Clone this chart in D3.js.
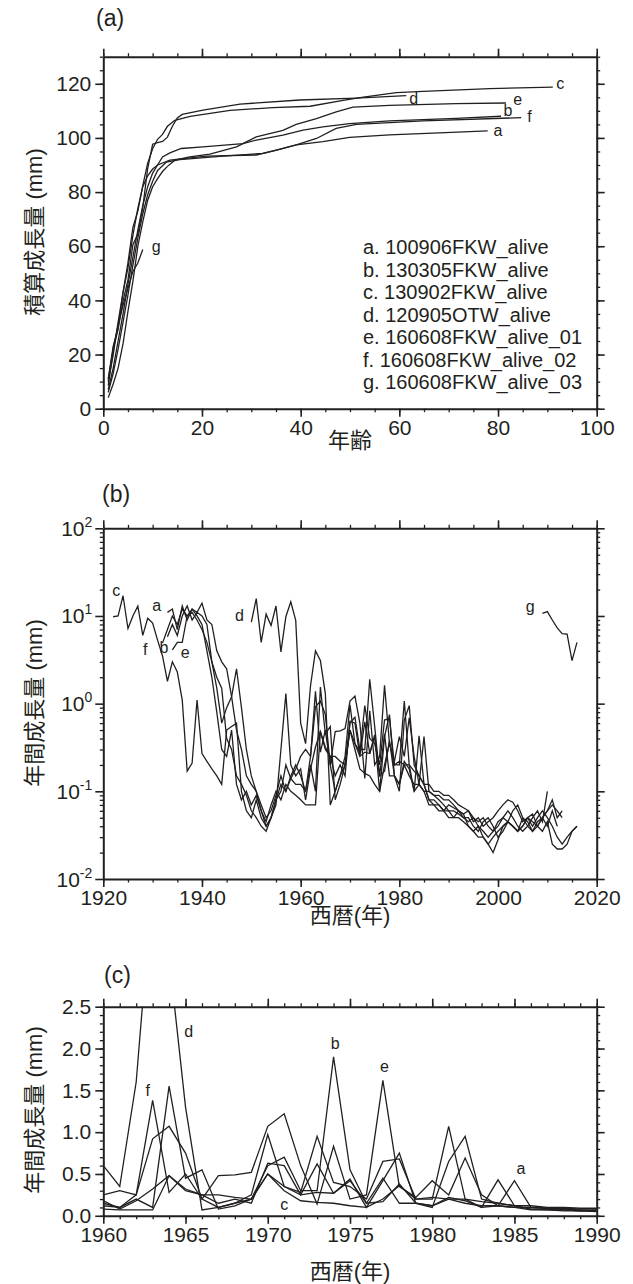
<!DOCTYPE html>
<html>
<head>
<meta charset="utf-8">
<script src="https://cdn.jsdelivr.net/npm/d3@7"></script>
<style>
  body { margin: 0; background: #fff; }
  svg { font-family: "Liberation Sans", Arial, "Noto Sans CJK JP", sans-serif; }
</style>
</head>
<body>
<svg id="chart" width="633" height="1284"></svg>
<script>
// ---- data ----
const seriesIds = ['a', 'b', 'c', 'd', 'e', 'f', 'g'];
const legendLabels = [
    'a. 100906FKW_alive',
    'b. 130305FKW_alive',
    'c. 130902FKW_alive',
    'd. 120905OTW_alive',
    'e. 160608FKW_alive_01',
    'f. 160608FKW_alive_02',
    'g. 160608FKW_alive_03'
];

// (a) cumulative growth [age, mm]
const cumA = [[1,11],[2,23],[3,30],[4,43],[5,52],[6,64],[7,74],[8,82],[9,86],[10,88.5],[11,90],[13.5,91.8],[20.9,93.3],[31,93.7],[35.1,95.5],[39.1,97.4],[44.5,98.6],[49.9,100.2],[58,101.1],[68.1,101.9],[77.9,102.6]];
const cumB = [[1,7],[2,15],[3,25],[4,35],[5,46],[6,56],[7,66],[8,75],[9,82],[10,87],[11,90],[12,93],[13.5,94.5],[15.8,96.1],[20.2,96.7],[28.3,97.9],[31,99.2],[36.4,101],[40.5,102.9],[44.5,104.1],[49.9,105.3],[58,106.3],[71.5,107.2],[80.6,108]];
const cumC = [[1,9.8],[2,19.8],[3,32],[4,43],[5,54],[6,67],[7,73],[8,82.4],[9,90.7],[10,96],[11,99.5],[12,101.3],[13,104.3],[14.5,106.5],[17.6,108],[25.7,110.2],[34.4,111.2],[41.9,111.7],[48.6,113.9],[52.7,115.1],[59.4,116.7],[64.8,117.2],[78.3,118.2],[91.1,118.8]];
const cumD = [[1,8.5],[2,22],[3,29.3],[4,39.8],[5,47.6],[6,60.6],[7,64.5],[8,74.3],[9,88.8],[10,97.7],[11,98.3],[12,98.7],[13,100.3],[14,104.3],[15,107.4],[16,108.7],[20.2,110.3],[27.7,112.5],[39.8,114],[51.3,114.7],[61.4,115.6]];
const cumE = [[1,4.1],[2,9.1],[3,15],[4,24],[5,36],[6,47],[7,60],[8,69],[9,77],[10,82],[11,85],[12,87.6],[13,89.5],[14.5,91.8],[17.5,93],[21.6,94],[27,96.7],[31,100.4],[36.4,102.8],[39.1,105],[43.2,107.1],[47.2,109.6],[50.6,111.4],[58,112],[71.5,112.7],[81.6,112.9]];
const cumF = [[1,6],[2,13],[3,22],[4,32],[5,42],[6,53],[7,63],[8,72],[9,79],[10,84],[11,88],[12.8,91.1],[15.5,92],[24.3,93.3],[32.4,94.3],[35.1,95.5],[39.1,97.4],[43.2,99.8],[47.2,103.5],[51.3,105],[64.8,106.3],[84.7,107.5]];
const cumG = [[1,10.7],[2,21.9],[3,30.9],[4,38.2],[5,44.5],[6,50.7],[7,53.8],[8,58.8]];

// (b),(c) annual growth (mm), one value per year from the first year
const firstYear = { a: 1933, b: 1933, c: 1922, d: 1950, e: 1934, f: 1932, g: 2009 };
const annualA = [11,12,7,13,9,12,10,8,4,2,0.8,0.3,
    0.25,0.5,0.12,0.08,0.1,0.07,0.09,0.06,0.045,0.07,0.1,0.08,0.12,0.1,0.09,
    0.08,0.07,0.07,0.07,0.48,0.32,0.25,0.15,0.2,0.15,0.63,0.6,0.25,0.62,0.27,0.44,0.1,0.42,0.75,0.15,0.12,0.2,0.15,0.12,0.12,0.42,0.1,0.09,0.08,0.07,0.06,
    0.06,0.055,0.05,0.045,0.05,0.04,0.035,0.03,0.035,0.045,0.05,0.06,0.05,0.04,0.035,0.04,0.05,0.06,0.045,0.1];
const annualB = [5.8,8,6,10,13,9,11,10,8,3,1.5,0.6,0.9,1.2,2.5,0.9,
    0.3,0.15,0.1,0.06,0.04,0.05,0.08,0.12,0.1,0.15,0.2,
    0.15,0.1,0.2,0.1,1.55,0.45,0.55,0.08,0.12,0.2,0.6,0.7,0.3,0.3,1.9,0.55,0.15,0.45,0.15,0.15,0.1,0.65,0.95,0.2,0.15,0.12,0.08,0.08,0.07,0.06,0.07,
    0.065,0.06,0.05,0.05,0.04,0.035,0.045,0.05,0.04,0.03,0.035,0.045,0.06,0.07,0.05,0.04,0.035,0.045,0.05,0.06,0.07,0.06,0.05];
const annualC = [9.8,10,17,7.2,10,13,6,9.4,8.3,5.3,3.5,1.8,3.0,2.3,
    1.1,0.17,0.21,1.1,0.27,0.22,0.18,0.15,0.12,0.5,0.55,0.6,0.1,0.06,0.05,0.08,0.05,0.04,0.05,0.07,0.3,1.3,0.2,0.15,
    0.18,0.08,0.18,0.32,0.48,0.3,0.25,0.25,0.22,0.2,0.5,0.3,0.18,0.16,0.15,0.12,0.1,0.2,0.36,0.2,0.22,0.2,0.2,0.17,0.15,0.12,0.12,0.1,0.1,0.09,0.09,
    0.08,0.07,0.065,0.06,0.05,0.045,0.05,0.04,0.035,0.04,0.05,0.045,0.04,0.035,0.04,0.05,0.045,0.04,0.05,0.06,0.08,0.05,0.06];
const annualD = [8.5,15.8,5,10.5,7.8,13,3.9,9.8,14.5,8.9,
    0.6,0.35,1.6,4.0,3.1,1.3,0.07,0.1,0.15,0.2,0.5,0.35,0.25,0.28,0.27,0.42,0.15,0.17,0.38,0.15,0.12,0.22,0.18,0.1,0.12,0.1,0.07,0.07,0.06,0.06,0.05,
    0.05,0.06,0.055,0.04,0.035,0.04,0.03,0.025,0.03,0.035,0.04,0.045,0.04,0.035,0.05,0.045,0.035,0.04,0.05,0.04,0.06,0.04];
const annualE = [4.1,5,5,10,12,11,14,9,8,4,3,2.5,1.2,0.5,0.3,0.15,0.12,
    0.1,0.07,0.05,0.06,0.09,0.15,0.1,0.14,0.12,
    0.12,0.1,0.25,0.92,1.07,0.75,0.2,0.48,0.49,0.52,1.07,1.22,0.6,0.14,0.83,0.2,0.25,1.62,0.35,0.22,0.42,0.25,0.69,0.25,0.12,0.1,0.1,0.09,0.09,0.08,0.08,
    0.07,0.06,0.055,0.06,0.045,0.05,0.04,0.045,0.05,0.06,0.07,0.08,0.075,0.06,0.045,0.05,0.04,0.05,0.06,0.05,0.04,0.03,0.025,0.03,0.035,0.04];
const annualF = [4.9,7,10,8,12,10,11,9,7,5,3,2,1.5,0.4,0.3,0.15,
    0.12,0.09,0.06,0.05,0.04,0.035,0.05,0.08,0.1,0.2,0.14,0.18,
    0.25,0.3,0.25,1.38,0.28,0.5,0.2,0.1,0.15,0.25,0.97,0.35,0.28,0.95,0.4,0.35,0.2,0.65,0.68,0.2,0.2,1.07,0.2,0.1,0.43,0.12,0.08,0.07,0.07,0.06,0.06,
    0.05,0.05,0.045,0.04,0.035,0.03,0.03,0.025,0.02,0.028,0.04,0.045,0.04,0.035,0.04,0.05,0.055,0.04,0.035,0.045,0.025,0.022,0.022,0.025,0.035,0.04];
const annualG = [10.7,11.2,9.0,7.3,6.3,6.2,3.1,5.0];

// tick values
const ticksAgeX = [0, 20, 40, 60, 80, 100];
const ticksCumY = [0, 20, 40, 60, 80, 100, 120];
const ticksYearB = [1920, 1940, 1960, 1980, 2000, 2020];
const ticksLogY = [0.01, 0.1, 1, 10, 100];
const ticksYearC = [1960, 1965, 1970, 1975, 1980, 1985, 1990];
const ticksLinY = [0, 0.5, 1.0, 1.5, 2.0, 2.5];

// curve labels, in data units
const notesA = [['c', 92.6, 120], ['d', 62.9, 114.4], ['e', 84, 114.3], ['b', 82, 110.2], ['f', 86.4, 108], ['a', 80, 102.8], ['g', 10.7, 59.8]];
const notesB = [['c', 1922.6, 19.7], ['a', 1930.8, 13.3], ['f', 1928.5, 4.1], ['b', 1932.3, 4.4], ['e', 1936.6, 3.8], ['d', 1947.6, 10], ['g', 2006.5, 12.7]];
const notesC = [['d', 1965.2, 2.2], ['f', 1962.7, 1.5], ['b', 1974.1, 2.06], ['e', 1977.1, 1.78], ['a', 1985.4, 0.57], ['c', 1971, 0.14]];

// ---- drawing ----
const ink = '#231f20';
const svg = d3.select('#chart');
const cumulative = { a: cumA, b: cumB, c: cumC, d: cumD, e: cumE, f: cumF, g: cumG };
const annual = { a: annualA, b: annualB, c: annualC, d: annualD, e: annualE, f: annualF, g: annualG };
const annualPoints = id => annual[id].map((v, i) => [firstYear[id] + i, v]);

const plotLeft = 103.3, plotRight = 596.7;
const tickFont = 21;

function frame(g, x, y, xMajor, xMinor, yMajor, yMinor, xFormat, yFormat) {
    const [x0, x1] = x.range();
    const [y0, y1] = y.range();
    const sides = [
        [d3.axisBottom(x), xMajor, xMinor, `translate(0,${y0})`, true],
        [d3.axisTop(x), xMajor, xMinor, `translate(0,${y1})`, false],
        [d3.axisLeft(y), yMajor, yMinor, `translate(${x0},0)`, true],
        [d3.axisRight(y), yMajor, yMinor, `translate(${x1},0)`, false]
    ];
    sides.forEach(([axis, major, minor, tr, labelled], k) => {
        const gm = g.append('g').attr('transform', tr)
            .call(axis.tickValues(minor).tickSize(3.5).tickSizeOuter(0).tickFormat(''));
        gm.select('.domain').remove();
        gm.selectAll('line').attr('stroke', ink).attr('stroke-width', 1.3);

        const fmt = labelled ? (k < 2 ? xFormat : yFormat) : () => '';
        const ga = g.append('g').attr('transform', tr)
            .call(axis.tickValues(major).tickSize(8).tickSizeOuter(0).tickPadding(k < 2 ? 3 : 4).tickFormat(fmt));
        ga.select('.domain').attr('stroke', ink).attr('stroke-width', 2);
        ga.selectAll('line').attr('stroke', ink).attr('stroke-width', 1.6);
        ga.selectAll('text').attr('fill', ink).attr('font-size', tickFont)
            .attr('font-family', '"Liberation Sans", Arial, sans-serif');
    });
}

function curveLabels(g, x, y, notes, size) {
    g.selectAll(null).data(notes).enter().append('text')
        .attr('x', d => x(d[1])).attr('y', d => y(d[2]))
        .attr('text-anchor', 'middle').attr('dominant-baseline', 'central')
        .attr('font-size', size).attr('fill', ink)
        .text(d => d[0]);
}

function yTitle(cx, cy, text) {
    svg.append('text')
        .attr('transform', `translate(${cx},${cy}) rotate(-90)`)
        .attr('text-anchor', 'middle').attr('dominant-baseline', 'central')
        .attr('font-size', 22).attr('fill', ink)
        .text(text);
}

function xTitle(cx, cy, text) {
    svg.append('text').attr('x', cx).attr('y', cy)
        .attr('text-anchor', 'middle').attr('dominant-baseline', 'central')
        .attr('font-size', 22).attr('fill', ink)
        .text(text);
}

function panelTag(x0, y0, text) {
    svg.append('text').attr('x', x0).attr('y', y0)
        .attr('dominant-baseline', 'central')
        .attr('font-size', 23).attr('fill', ink).text(text);
}

function clipRect(id, x, y) {
    svg.append('clipPath').attr('id', id).append('rect')
        .attr('x', x.range()[0]).attr('y', y.range()[1])
        .attr('width', x.range()[1] - x.range()[0])
        .attr('height', y.range()[0] - y.range()[1]);
}

// ---- panel (a) ----
{
    const x = d3.scaleLinear().domain([0, 100]).range([plotLeft, plotRight]);
    const y = d3.scaleLinear().domain([0, 130]).range([408.7, 56.7]);
    const g = svg.append('g');
    const line = d3.line().x(d => x(d[0])).y(d => y(d[1]));

    g.selectAll('path.cum').data(seriesIds).enter().append('path')
        .attr('class', 'cum')
        .attr('d', id => line(cumulative[id]))
        .attr('fill', 'none').attr('stroke', ink).attr('stroke-width', 1.3);

    frame(g, x, y, ticksAgeX, d3.range(0, 101, 5), ticksCumY, d3.range(0, 131, 5),
        d3.format('d'), d3.format('d'));
    curveLabels(g, x, y, notesA, 16);

    g.append('g').selectAll('text').data(legendLabels).enter().append('text')
        .attr('x', 363).attr('y', (d, i) => 247 + i * 22.5)
        .attr('dominant-baseline', 'central')
        .attr('font-size', 20).attr('fill', ink)
        .text(d => d);

    panelTag(96, 18, '(a)');
    yTitle(34, 232, '積算成長量 (mm)');
    xTitle(350, 440, '年齢');
}

// ---- panel (b) ----
{
    const x = d3.scaleLinear().domain([1920, 2020]).range([plotLeft, plotRight]);
    const y = d3.scaleLog().domain([0.01, 100]).range([879, 528.3]);
    const g = svg.append('g');
    const line = d3.line().x(d => x(d[0])).y(d => y(d[1]));
    clipRect('clip-b', x, y);

    g.append('g').attr('clip-path', 'url(#clip-b)')
        .selectAll('path').data(seriesIds).enter().append('path')
        .attr('d', id => line(annualPoints(id)))
        .attr('fill', 'none').attr('stroke', ink).attr('stroke-width', 1.3);

    const logMinor = [];
    [0.01, 0.1, 1, 10].forEach(p => d3.range(2, 10).forEach(m => logMinor.push(p * m)));
    frame(g, x, y, ticksYearB, d3.range(1920, 2021, 5), ticksLogY, logMinor,
        d3.format('d'), () => '');

    // 10^n labels
    g.selectAll('text.pow').data(ticksLogY).enter().append('text')
        .attr('class', 'pow')
        .attr('x', plotLeft - 11).attr('y', d => y(d) + 7.5)
        .attr('text-anchor', 'end').attr('font-size', tickFont).attr('fill', ink)
        .each(function (d) {
            const t = d3.select(this);
            const p = Math.round(Math.log10(d));
            t.append('tspan').text('10');
            t.append('tspan').attr('dy', -9).attr('font-size', 14).text(p);
        });

    curveLabels(g, x, y, notesB, 16);
    panelTag(102, 494, '(b)');
    yTitle(34, 703, '年間成長量 (mm)');
    xTitle(350, 915, '西暦(年)');
}

// ---- panel (c) ----
{
    const x = d3.scaleLinear().domain([1960, 1990]).range([plotLeft, plotRight]);
    const y = d3.scaleLinear().domain([0, 2.5]).range([1215.8, 1006.7]);
    const g = svg.append('g');
    const line = d3.line().x(d => x(d[0])).y(d => y(d[1]));
    clipRect('clip-c', x, y);

    g.append('g').attr('clip-path', 'url(#clip-c)')
        .selectAll('path').data(seriesIds).enter().append('path')
        .attr('d', id => line(annualPoints(id)))
        .attr('fill', 'none').attr('stroke', ink).attr('stroke-width', 1.3);

    frame(g, x, y, ticksYearC, d3.range(1960, 1991, 1), ticksLinY, d3.range(0, 26).map(v => v / 10),
        d3.format('d'), d3.format('.1f'));
    curveLabels(g, x, y, notesC, 16);
    panelTag(104, 975, '(c)');
    yTitle(34, 1110, '年間成長量 (mm)');
    xTitle(350, 1271, '西暦(年)');
}
</script>
</body>
</html>
